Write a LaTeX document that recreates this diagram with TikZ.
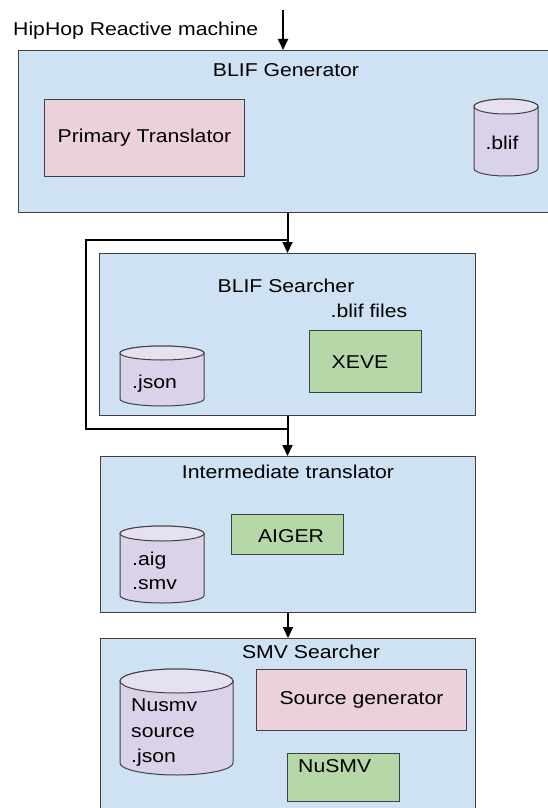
\documentclass[tikz,border=0pt]{standalone}
\usepackage{fontspec}
\setmainfont{Liberation Sans}[FakeStretch=1.14]
\usetikzlibrary{arrows.meta}
\definecolor{bluefill}{HTML}{CFE2F3}
\definecolor{pinkfill}{HTML}{EAD1DC}
\definecolor{purplefill}{HTML}{D9D2E9}
\definecolor{purpletop}{HTML}{E6E1F1}
\definecolor{greenfill}{HTML}{B6D7A8}
\definecolor{edge}{HTML}{404040}
\tikzset{
  lbl/.style={font=\fontsize{18.6}{25.5}\selectfont, inner sep=0pt},
  frame/.style={draw=edge, line width=1pt, anchor=north west, inner sep=0pt, font=\fontsize{18.6}{25.5}\selectfont},
  bluebox/.style={frame, fill=bluefill},
  pinkbox/.style={frame, fill=pinkfill},
  greenbox/.style={frame, fill=greenfill},
  cylbody/.style={draw=edge, line width=1pt, fill=purplefill},
  cyltop/.style={draw=edge, line width=1pt, fill=purpletop},
  conn/.style={line width=2pt, draw=black},
  arr/.style={conn, -{Triangle[length=11pt,width=10pt]}},
}
\newcommand{\dbcyl}[5]{%
  \pgfmathsetmacro\cylcx{(#1+#3)/2}%
  \pgfmathsetmacro\cylrx{(#3-#1)/2}%
  \path[cylbody] (#1,-#2-#5) -- (#1,-#4+#5)
     arc[start angle=180,end angle=360,x radius=\cylrx,y radius=#5]
     -- (#3,-#2-#5)
     arc[start angle=0,end angle=180,x radius=\cylrx,y radius=#5] -- cycle;
  \path[cyltop] (\cylcx,-#2-#5) ellipse[x radius=\cylrx,y radius=#5];
}
\begin{document}
\begin{tikzpicture}[x=1pt,y=1pt]
\useasboundingbox[fill=white] (0,0) rectangle (547,-808);

% ---------- boxes ----------
\node[bluebox, minimum width=532pt, minimum height=162pt] (gen) at (18,-50) {};
\node[bluebox, minimum width=376pt, minimum height=162pt] (srch) at (99,-253) {};
\node[bluebox, minimum width=375pt, minimum height=156pt] (inter) at (100,-456) {};
\node[bluebox, minimum width=375pt, minimum height=180pt] (smv) at (100,-638) {};

% ---------- title ----------
\node[lbl, anchor=base west] (title) at (13,-36) {HipHop Reactive machine};
\coordinate (in) at (283,-10);

% ---------- BLIF Generator ----------
\node[lbl, anchor=base] (gentitle) at (286,-77) {BLIF Generator};
\node[pinkbox, minimum width=200pt, minimum height=77pt] (pt) at (44,-99) {Primary Translator};
\dbcyl{474}{99}{538}{176}{7.5}
\node[lbl, anchor=base] (blif) at (502,-149) {.blif};

% ---------- BLIF Searcher ----------
\node[lbl, anchor=base] (srchtitle) at (286,-292) {BLIF Searcher};
\node[lbl, anchor=base] (bliffiles) at (369,-317) {.blif files};
\node[greenbox, minimum width=112pt, minimum height=62pt] (xeve) at (309,-330) {};
\node[lbl, anchor=base] (xevel) at (360,-368) {XEVE};
\dbcyl{120}{346}{204}{406}{7}
\node[lbl, anchor=base west] (json) at (132,-388) {.json};

% ---------- Intermediate translator ----------
\node[lbl, anchor=base] (intertitle) at (288,-478) {Intermediate translator};
\node[greenbox, minimum width=112pt, minimum height=40pt] (aiger) at (231,-514) {};
\node[lbl, anchor=base] (aigerl) at (291,-542) {AIGER};
\dbcyl{120}{526}{204}{603}{7.5}
\node[lbl, anchor=base west] (aig) at (132,-565) {.aig};
\node[lbl, anchor=base west] (smvf) at (132,-589) {.smv};

% ---------- SMV Searcher ----------
\node[lbl, anchor=base] (smvtitle) at (311,-658) {SMV Searcher};
\dbcyl{120}{669}{233}{775}{12}
\node[lbl, anchor=base west] (nus1) at (131,-711) {Nusmv};
\node[lbl, anchor=base west] (nus2) at (131,-737) {source};
\node[lbl, anchor=base west] (nus3) at (131,-762) {.json};
\node[pinkbox, minimum width=210pt, minimum height=61pt] (srcgen) at (256,-669) {Source generator};
\node[greenbox, minimum width=112pt, minimum height=48pt] (nusmv) at (287,-753) {};
\node[lbl, anchor=base west] (nusmvl) at (298,-772) {NuSMV};

% ---------- connectors ----------
\draw[arr] (in) -- (in |- gen.north);
\draw[arr] (srch.north |- gen.south) -- (srch.north);
\coordinate (lt) at (287,-240);
\coordinate (ltl) at (86,-240);
\coordinate (lbl) at (86,-429);
\coordinate (lb) at (287,-429);
\draw[conn, line join=miter] (lt) -- (ltl) -- (lbl) -- (lb);
\draw[arr] (srch.south) -- (srch.south |- inter.north);
\draw[arr] (inter.south) -- (smv.north);
\end{tikzpicture}
\end{document}
